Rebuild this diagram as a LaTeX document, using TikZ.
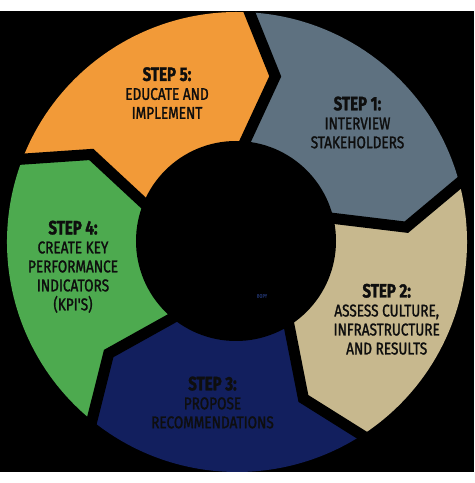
\documentclass[tikz,border=0pt]{standalone}
\usepackage{fontspec}
\usepackage{tikz}
\newfontfamily\bodyfont[FakeStretch=0.80, FakeBold=1.5]{Fira Sans}
\newfontfamily\headfont[FakeStretch=0.78, FakeBold=1.5]{Fira Sans}
\definecolor{stepgray}{HTML}{5E7180}
\definecolor{stepbeige}{HTML}{C7B88E}
\definecolor{stepnavy}{HTML}{121F5E}
\definecolor{stepgreen}{HTML}{4DAA4F}
\definecolor{steporange}{HTML}{F29A38}
\definecolor{steptext}{HTML}{0E0E0E}
\definecolor{markblue}{HTML}{1C2C5C}
\newcommand{\stephead}[1]{{\headfont\bfseries\fontsize{16.5}{16.2}\selectfont #1}}

\begin{document}
\begin{tikzpicture}[x=0.03cm, y=0.03cm,
    gapline/.style={black, line width=0.33cm, line join=miter},
    steplabel/.style={text=steptext, align=center, inner sep=0pt,
      font=\bodyfont\fontsize{14.5}{16.2}\selectfont}]
    % Page and background
    \useasboundingbox (-237,-241) rectangle (237,242);
    \fill[white] (-237,-241) rectangle (237,242);
    \fill[black] (-237,-230) rectangle (237,231);

    % Ring segments
    \fill[stepgray] (88:230) -- (77:170) -- (88:100) -- (88:50)
      arc[start angle=88, end angle=16, radius=50] -- (16:100) -- (5:170) -- (16:230)
      arc[start angle=16, end angle=88, radius=230] -- cycle;
    \fill[stepbeige] (16:230) -- (5:170) -- (16:100) -- (16:50)
      arc[start angle=16, end angle=-56, radius=50] -- (-56:100) -- (-67:170) -- (-56:230)
      arc[start angle=-56, end angle=16, radius=230] -- cycle;
    \fill[stepnavy] (-56:230) -- (-67:170) -- (-56:100) -- (-56:50)
      arc[start angle=-56, end angle=-128, radius=50] -- (-128:100) -- (-139:170) -- (-128:230)
      arc[start angle=-128, end angle=-56, radius=230] -- cycle;
    \fill[stepgreen] (-128:230) -- (-139:170) -- (-128:100) -- (-128:50)
      arc[start angle=-128, end angle=-200, radius=50] -- (-200:100) -- (-211:170) -- (-200:230)
      arc[start angle=-200, end angle=-128, radius=230] -- cycle;
    \fill[steporange] (160:230) -- (149:170) -- (160:100) -- (160:50)
      arc[start angle=160, end angle=88, radius=50] -- (88:100) -- (77:170) -- (88:230)
      arc[start angle=88, end angle=160, radius=230] -- cycle;

    % Gaps between segments
    \begin{scope}
      \clip (0,0) circle (231);
      \draw[gapline] (88:240) -- (77:170) -- (88:90);
      \draw[gapline] (16:240) -- (5:170) -- (16:90);
      \draw[gapline] (-56:240) -- (-67:170) -- (-56:90);
      \draw[gapline] (-128:240) -- (-139:170) -- (-128:90);
      \draw[gapline] (160:240) -- (149:170) -- (160:90);
    \end{scope}

    % Centre hole
    \fill[black] (-1,1) circle (100);
    \node[text=markblue, inner sep=0pt, font=\bodyfont\fontsize{4.5}{5}\selectfont] (mark) at (25,-54) {BOPY};

    % Step labels
    \node[steplabel] (step1) at (120.5,119.5) {\stephead{STEP 1:}\\ INTERVIEW\\ STAKEHOLDERS};
    \node[steplabel] (step2) at (149.7,-77.2) {\stephead{STEP 2:}\\ ASSESS CULTURE,\\ INFRASTRUCTURE\\ AND RESULTS};
    \node[steplabel] (step3) at (-24.5,-160.5) {\stephead{STEP 3:}\\ PROPOSE\\ RECOMMENDATIONS};
    \node[steplabel] (step4) at (-164,-24.7) {\stephead{STEP 4:}\\ CREATE KEY\\ PERFORMANCE\\ INDICATORS\\ (KPI'S)};
    \node[steplabel] (step5) at (-70,149) {\stephead{STEP 5:}\\ EDUCATE AND\\ IMPLEMENT};
\end{tikzpicture}
\end{document}
